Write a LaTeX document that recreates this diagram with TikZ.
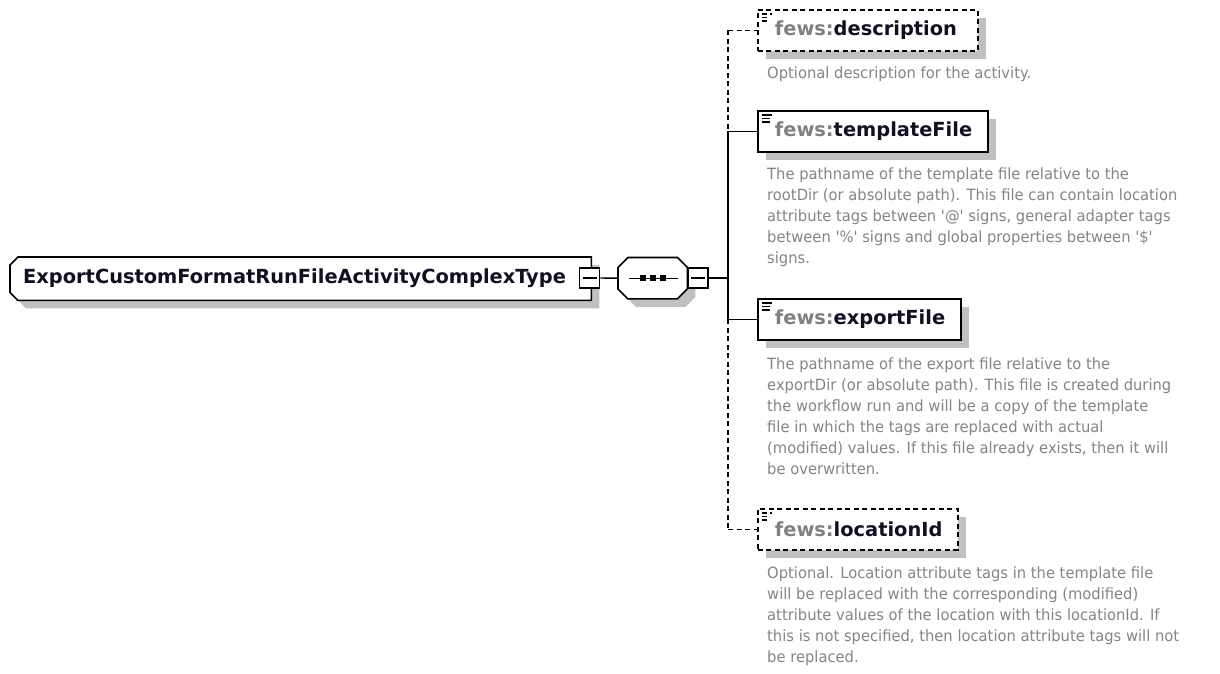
\documentclass[tikz,border=0pt]{standalone}
\usepackage{fontspec}
\setmainfont{DejaVu Sans}
\newfontfamily\docfont[FakeStretch=0.95]{DejaVu Sans}
\usetikzlibrary{shadows,backgrounds}
\pgfdeclarelayer{canvas}
\pgfsetlayers{canvas,background,main}
\definecolor{shadowgray}{HTML}{C0C0C0}
\definecolor{docgray}{HTML}{858585}
\definecolor{nsgray}{HTML}{808080}
\definecolor{namecol}{HTML}{101020}
\tikzset{
  conn/.style={line width=1.4pt},
  dconn/.style={line width=1.4pt, dash pattern=on 5pt off 3.5pt},
  outline/.style={draw, line width=1.6pt, fill=white},
  shadowfill/.style={fill=shadowgray},
  shadowed/.style={drop shadow={shadow xshift=8pt, shadow yshift=-8pt, fill=shadowgray, opacity=1}},
  mainbox/.style={rectangle, minimum width=581pt, minimum height=43pt,
    inner xsep=12pt, text width=555pt, align=left, font=\fontsize{19.4}{22}\selectfont\bfseries, text=namecol},
  seqbox/.style={rectangle, minimum width=69pt, minimum height=41pt, inner sep=0pt},
  minusbox/.style={rectangle, draw, line width=1.6pt, fill=white, minimum size=20pt, inner sep=0pt,
    path picture={\draw[line width=1.4pt] ([xshift=3pt]path picture bounding box.west) -- ([xshift=-3pt]path picture bounding box.east);}},
  elem/.style={rectangle, draw, line width=1.8pt, fill=white, shadowed, minimum height=41pt,
    inner xsep=2pt, inner ysep=0pt, align=left, font=\fontsize{19.4}{22}\selectfont\bfseries,
    path picture={
      \foreach \yy/\ll in {4/10,7.5/8,11/8}{
        \draw[line width=1.3pt] ([shift={(4,\yy)}]path picture bounding box.north west) -- ++(\ll,0);}
    }},
  optelem/.style={elem, dash pattern=on 5pt off 3.5pt},
  doc/.style={anchor=north west, inner sep=0pt, align=left, text=docgray,
    font=\docfont\fontsize{15.5}{21}\selectfont},
}
\newcommand{\elname}[1]{\hspace*{15pt}{\color{nsgray}fews:}{\color{namecol}#1}}
\begin{document}
\begin{tikzpicture}[x=1pt,y=-1pt]
\useasboundingbox (0,0) rectangle (1220,673);
\begin{pgfonlayer}{canvas}
  \fill[white] (0,0) rectangle (1220,673);
\end{pgfonlayer}

% main type node
\node[mainbox, anchor=north west] (main) at (10,257) {ExportCustomFormatRunFileActivityComplexType};
\begin{pgfonlayer}{background}
  \fill[shadowfill] ([shift={(16,8)}]main.north west) -- ([shift={(8,8)}]main.north east) -- ([shift={(8,8)}]main.south east)
     -- ([shift={(16,8)}]main.south west) -- ([shift={(8,0)}]main.south west) -- ([shift={(8,16)}]main.north west) -- cycle;
  \path[outline] ([shift={(8,0)}]main.north west) -- (main.north east) -- (main.south east)
     -- ([shift={(8,0)}]main.south west) -- ([shift={(0,-8)}]main.south west) -- ([shift={(0,8)}]main.north west) -- cycle;
\end{pgfonlayer}
\node[minusbox] (mainminus) at (589.5,278) {};

% sequence compositor
\node[seqbox, anchor=north west] (seq) at (618,257.5) {};
\begin{pgfonlayer}{background}
  \fill[shadowfill] ([shift={(18,8)}]seq.north west) -- ([shift={(-2,8)}]seq.north east) -- ([shift={(8,18)}]seq.north east)
     -- ([shift={(8,-2)}]seq.south east) -- ([shift={(-2,8)}]seq.south east) -- ([shift={(18,8)}]seq.south west)
     -- ([shift={(8,-2)}]seq.south west) -- ([shift={(8,18)}]seq.north west) -- cycle;
  \path[outline] ([shift={(10,0)}]seq.north west) -- ([shift={(-10,0)}]seq.north east) -- ([shift={(0,10)}]seq.north east)
     -- ([shift={(0,-10)}]seq.south east) -- ([shift={(-10,0)}]seq.south east) -- ([shift={(10,0)}]seq.south west)
     -- ([shift={(0,-10)}]seq.south west) -- ([shift={(0,10)}]seq.north west) -- cycle;
\end{pgfonlayer}
\draw[line width=1.4pt] ([xshift=11pt]seq.west) -- ([xshift=-9pt]seq.east);
\foreach \xx in {643,653,663}{ \fill ([xshift=\xx pt - 618pt - 3pt]seq.west) ++(0,-2.8) rectangle ++(6,5.6); }
\node[minusbox] (seqminus) at (698,278) {};

\coordinate (bus) at (728,278);

% children
\node[optelem, anchor=north west, text width=216pt] (desc) at (757,9) {\elname{description}};
\node[elem, anchor=north west, text width=226pt] (tmpl) at (757,110) {\elname{templateFile}};
\node[elem, anchor=north west, text width=199pt] (expf) at (757,298) {\elname{exportFile}};
\node[optelem, anchor=north west, text width=196pt] (loc) at (757,508) {\elname{locationId}};

% connectors
\draw[conn] (mainminus.east) -- (seq.west);
\draw[conn] (seqminus.east) -- (bus);
\draw[dconn] (desc.west -| bus) -- (tmpl.west -| bus);
\draw[conn] (tmpl.west -| bus) -- (expf.west -| bus);
\draw[dconn] (expf.west -| bus) -- (loc.west -| bus);
\draw[dconn] (desc.west -| bus) -- (desc.west);
\draw[conn] (tmpl.west -| bus) -- (tmpl.west);
\draw[conn] (expf.west -| bus) -- (expf.west);
\draw[dconn] (loc.west -| bus) -- (loc.west);

% documentation
\node[doc] (descdoc) at (767,66.5) {Optional description for the activity.};
\node[doc] (tmpldoc) at (767,167.5) {The pathname of the template file relative to the\\
rootDir (or absolute path). This file can contain location\\
attribute tags between '@' signs, general adapter tags\\
between '\%' signs and global properties between '\$'\\
signs.};
\node[doc] (expfdoc) at (767,357.5) {The pathname of the export file relative to the\\
exportDir (or absolute path). This file is created during\\
the workflow run and will be a copy of the template\\
file in which the tags are replaced with actual\\
(modified) values. If this file already exists, then it will\\
be overwritten.};
\node[doc] (locdoc) at (767,566.5) {Optional. Location attribute tags in the template file\\
will be replaced with the corresponding (modified)\\
attribute values of the location with this locationId. If\\
this is not specified, then location attribute tags will not\\
be replaced.};
\end{tikzpicture}
\end{document}
